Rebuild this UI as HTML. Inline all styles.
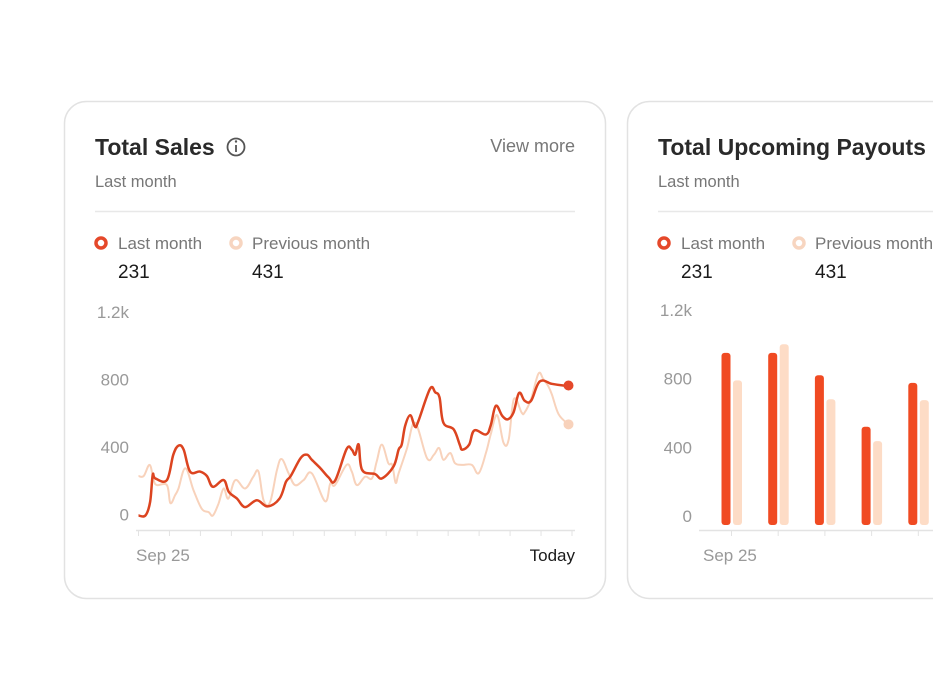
<!DOCTYPE html>
<html><head><meta charset="utf-8">
<style>
html,body{margin:0;padding:0;background:#fff;width:933px;height:700px;overflow:hidden}
svg{display:block;font-family:"Liberation Sans",sans-serif}
</style></head>
<body>
<svg id="page" width="933" height="700" viewBox="0 0 933 700">
 <g>
  <rect x="64.5" y="101.5" width="541" height="497" rx="22" fill="#fff" stroke="#e2e2e2" stroke-width="1.5"/>
  <text x="95" y="155" font-size="23" font-weight="bold" fill="#2a2a2a">Total Sales</text>
  <g><circle cx="236" cy="147" r="8.5" fill="none" stroke="#555" stroke-width="1.8"/><line x1="236" y1="145" x2="236" y2="152" stroke="#555" stroke-width="1.8"/><circle cx="236" cy="141.5" r="1.2" fill="#555"/></g>
  <text x="575" y="152" font-size="18" fill="#777" text-anchor="end">View more</text>
  <text x="95" y="187" font-size="16.5" fill="#777">Last month</text>
  <line x1="95" y1="211.5" x2="575" y2="211.5" stroke="#e8e8e8" stroke-width="1.5"/>
  <g><circle cx="101" cy="243" r="5" fill="#fff" stroke="#e5482a" stroke-width="3.5"/><text x="118" y="249" font-size="17" fill="#777">Last month</text><text x="118" y="278" font-size="19" fill="#1a1a1a">231</text></g>
  <g><circle cx="236" cy="243" r="5" fill="#fff" stroke="#f7d5c0" stroke-width="3.5"/><text x="252" y="249" font-size="17" fill="#777">Previous month</text><text x="252" y="278" font-size="19" fill="#1a1a1a">431</text></g>
  <g id="lineChart"></g>
 </g>
 <g>
  <rect x="627.5" y="101.5" width="541" height="497" rx="22" fill="#fff" stroke="#e2e2e2" stroke-width="1.5"/>
  <text x="658" y="155" font-size="23" font-weight="bold" fill="#2a2a2a">Total Upcoming Payouts</text>
  <text x="658" y="187" font-size="16.5" fill="#777">Last month</text>
  <line x1="658" y1="211.5" x2="933" y2="211.5" stroke="#e8e8e8" stroke-width="1.5"/>
  <g><circle cx="664" cy="243" r="5" fill="#fff" stroke="#e5482a" stroke-width="3.5"/><text x="681" y="249" font-size="17" fill="#777">Last month</text><text x="681" y="278" font-size="19" fill="#1a1a1a">231</text></g>
  <g><circle cx="799" cy="243" r="5" fill="#fff" stroke="#f7d5c0" stroke-width="3.5"/><text x="815" y="249" font-size="17" fill="#777">Previous month</text><text x="815" y="278" font-size="19" fill="#1a1a1a">431</text></g>
  <g id="barChart"></g>
 </g>
</svg>
<script>
// Line chart data (t = percent of period, 0..100)
const lastT=[0,1.6,2.7,3.3,3.9,6.6,8.1,9.3,10.5,12,14.3,15.9,17.3,19.8,21,22.9,24.8,27.5,30,32.8,34.3,35.4,37.7,39.2,40.3,42.3,44.2,45.7,48.4,49.6,50.4,51.2,52,55,56.6,59.3,60.5,61.2,62,63.2,64.3,65.1,67.8,69,70,70.9,73.3,74.7,75.3,76.9,78.1,80.8,81.9,83.1,84.6,85.9,87.2,88.5,89.8,91.3,93.3,96.1,98.8,100];
const lastV=[0,0,80,240,220,210,360,414,390,260,260,234,170,210,140,100,50,90,54,100,200,234,340,360,330,280,226,206,394,390,360,420,270,246,220,290,390,420,530,594,526,560,750,730,700,550,510,420,390,420,504,480,534,650,590,570,610,726,680,680,794,780,770,770];
const prevT=[0,1.2,2.6,3.5,4.3,6.6,7.4,8.5,9.3,10.9,12.8,14.7,16.3,17.3,18.6,19.8,20.9,22.5,24.8,26.7,27.9,29.1,30.6,32.2,33.3,34.9,36.4,38.4,40.3,43.4,44.6,45.7,48.4,49.6,50.8,52.7,54.3,55.4,56.6,58.1,59,59.8,60.5,62.4,64.3,67.1,68.7,69.9,70.9,72.5,73.6,75.2,77.5,79.1,80.8,81.9,83.4,84.9,86.1,87.3,89.1,89.8,91.3,93,94.1,95.2,96.1,97.7,100];
const prevV=[234,234,300,210,180,180,74,120,160,280,150,40,20,0,70,160,100,210,160,230,260,90,80,270,334,250,180,210,250,84,190,180,300,260,180,230,220,320,420,310,300,194,250,394,550,340,360,400,330,370,310,300,300,250,370,480,594,430,450,690,610,610,690,840,810,770,720,600,540];
const yTicks=[0,400,800,1200];
const yTickLabels=["0","400","800","1.2k"];
const xTickCount=15;
const xLabels=["Sep 25","Today"];
// Bar chart data
const barCats=["w1","w2","w3","w4","w5"];
const barLast=[950,950,820,520,775];
const barPrev=[790,1000,680,436,675];

const NS="http://www.w3.org/2000/svg";
function mk(tag,attrs,parent){const e=document.createElementNS(NS,tag);for(const k in attrs)e.setAttribute(k,attrs[k]);parent.appendChild(e);return e;}

// Line chart
const lc=document.getElementById('lineChart');
const x0=138.5,x1=568.5;
const xS=t=>x0+t/100*(x1-x0);
const yS=v=>515.5-v*0.1688;
yTicks.forEach((v,i)=>{
 const t=mk('text',{x:129,y:yS(v)+5,'font-size':17,fill:'#999','text-anchor':'end'},lc);
 t.textContent=yTickLabels[i];
 
 
});
const ax=mk('line',{x1:136,y1:530.5,x2:575,y2:530.5,stroke:'#e3e3e3','stroke-width':1.5},lc);


for(let i=0;i<xTickCount;i++){
 const x=x0+i*(572-x0)/(xTickCount-1);
 const tk=mk('line',{x1:x,y1:531,x2:x,y2:536,stroke:'#e3e3e3','stroke-width':1},lc);
 
 
}
const xl1=mk('text',{x:136,y:561,'font-size':17,fill:'#999'},lc);xl1.textContent=xLabels[0];


const xl2=mk('text',{x:575,y:561,'font-size':17,fill:'#1a1a1a','text-anchor':'end'},lc);xl2.textContent=xLabels[1];


function path(T,V){
 const P=T.map((t,i)=>[xS(t),yS(V[i])]);
 let d='M'+P[0][0].toFixed(1)+','+P[0][1].toFixed(1);
 for(let i=0;i<P.length-1;i++){
  const p0=P[i-1]||P[i],p1=P[i],p2=P[i+1],p3=P[i+2]||P[i+1];
  const k=0.18;
  const c1=[p1[0]+(p2[0]-p0[0])*k,p1[1]+(p2[1]-p0[1])*k];
  const c2=[p2[0]-(p3[0]-p1[0])*k,p2[1]-(p3[1]-p1[1])*k];
  d+='C'+c1.map(n=>n.toFixed(1)).join(',')+' '+c2.map(n=>n.toFixed(1)).join(',')+' '+p2[0].toFixed(1)+','+p2[1].toFixed(1);
 }
 return d;
}
const pp=mk('path',{d:path(prevT,prevV),fill:'none',stroke:'#f8d2bb','stroke-width':2,'stroke-linejoin':'round'},lc);


const lp=mk('path',{d:path(lastT,lastV),fill:'none',stroke:'#dc4420','stroke-width':2.5,'stroke-linejoin':'round'},lc);


const pd=mk('circle',{cx:xS(prevT[prevT.length-1]),cy:yS(prevV[prevV.length-1]),r:5,fill:'#f8d2bb'},lc);


const ld=mk('circle',{cx:xS(lastT[lastT.length-1]),cy:yS(lastV[lastV.length-1]),r:5,fill:'#e5482a'},lc);



// Bar chart
const bc=document.getElementById('barChart');
const byS=v=>516-v*0.1717;
const base=525;
yTicks.forEach((v,i)=>{
 const t=mk('text',{x:692,y:byS(v)+6,'font-size':17,fill:'#999','text-anchor':'end'},bc);
 t.textContent=yTickLabels[i];
 
 
});
const bax=mk('line',{x1:699,y1:530.5,x2:933,y2:530.5,stroke:'#e3e3e3','stroke-width':1.5},bc);


const gx=i=>731.5+i*46.7;
barCats.forEach((c,i)=>{
 const tk=mk('line',{x1:gx(i),y1:531,x2:gx(i),y2:536,stroke:'#e3e3e3','stroke-width':1},bc);
 
 
 const b1=mk('rect',{x:gx(i)-10,y:byS(barLast[i]),width:9,height:base-byS(barLast[i]),rx:3,fill:'#f04a22'},bc);
 
 
 const b2=mk('rect',{x:gx(i)+1.5,y:byS(barPrev[i]),width:9,height:base-byS(barPrev[i]),rx:3,fill:'#fddcc6'},bc);
 
 
});
const bxl=mk('text',{x:703,y:561,'font-size':17,fill:'#999'},bc);bxl.textContent=xLabels[0];


</script>
</body></html>
